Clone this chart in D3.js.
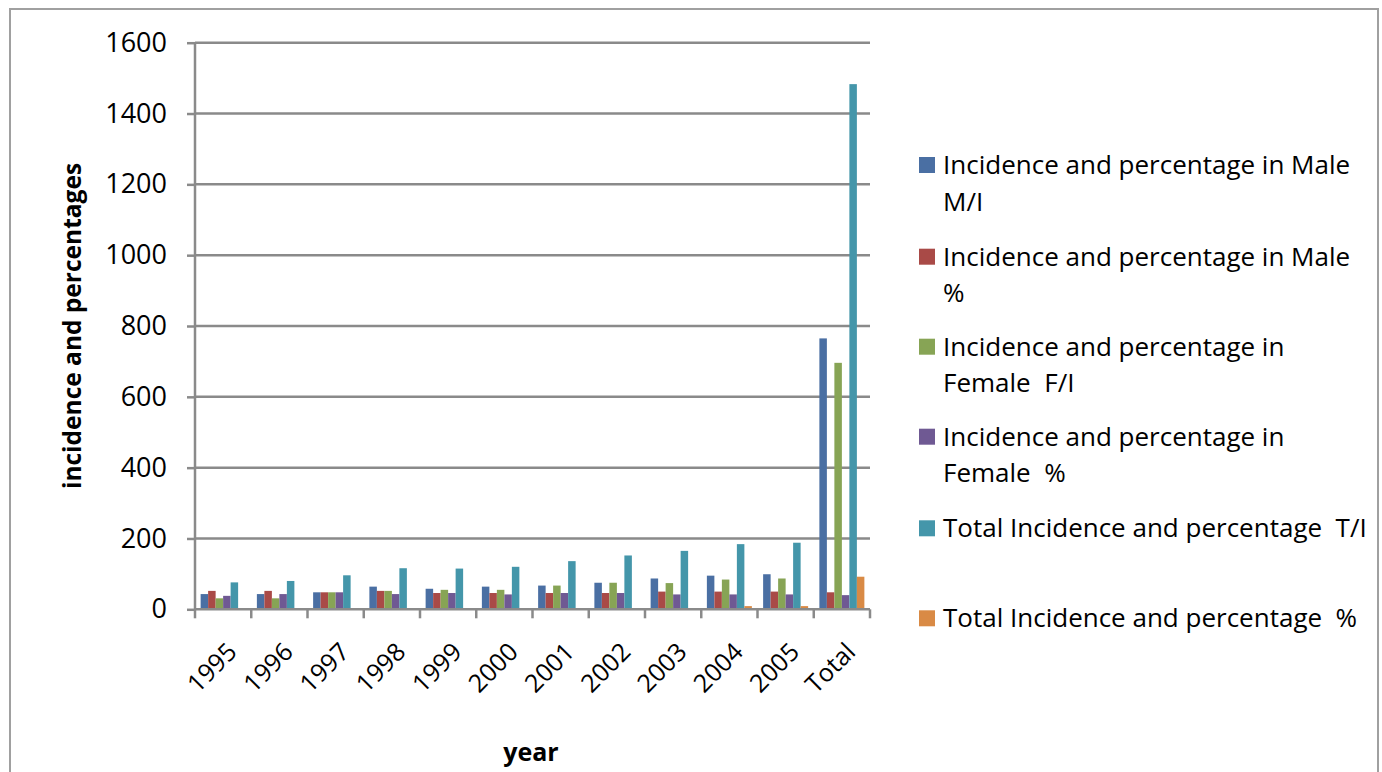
<!DOCTYPE html>
<html><head><meta charset="utf-8">
<script src="https://cdn.jsdelivr.net/npm/d3@7/dist/d3.min.js"></script>
<style>
html,body{margin:0;padding:0;background:#fff;}
svg{display:block;font-family:"Open Sans",sans-serif;}
</style></head>
<body><svg id="c" width="1382" height="772"></svg>
<script>
const categories = ["1995","1996","1997","1998","1999","2000","2001","2002","2003","2004","2005","Total"];
const seriesNames = [
  ["Incidence and percentage in Male","M/I"],
  ["Incidence and percentage in Male","%"],
  ["Incidence and percentage in","Female  F/I"],
  ["Incidence and percentage in","Female  %"],
  ["Total Incidence and percentage  T/I"],
  ["Total Incidence and percentage  %"]
];
const maleIncidence   = [43, 43, 48, 64, 58, 64, 67, 75, 87, 95, 99, 765];
const malePercent     = [52, 52, 48, 52, 46, 46, 46, 46, 50, 50, 50, 48];
const femaleIncidence = [31, 31, 48, 52, 55, 55, 67, 75, 74, 84, 87, 696];
const femalePercent   = [38, 43, 48, 43, 46, 42, 46, 46, 42, 42, 42, 40];
const totalIncidence  = [76, 80, 96, 116, 115, 120, 136, 152, 165, 184, 188, 1483];
const totalPercent    = [0, 0, 0, 0, 0, 0, 0, 0, 0, 9, 9, 92];
const yTicks = [0, 200, 400, 600, 800, 1000, 1200, 1400, 1600];
const colors = ["#4a6fa3", "#a94a47", "#87a455", "#6f5993", "#4496aa", "#d98a45"];

const series = [maleIncidence, malePercent, femaleIncidence, femalePercent, totalIncidence, totalPercent];

const svg = d3.select("#c");
const grey = "#8a8a8a";

// outer border
svg.append("rect").attr("x",10).attr("y",9).attr("width",1368).attr("height",800)
  .attr("fill","none").attr("stroke","#a0a0a0").attr("stroke-width",2);

const pLeft = 195, pRight = 870, pTop = 42.7, pBottom = 609.3;
const x = d3.scaleBand().domain(categories).range([pLeft, pRight]).paddingInner(0).paddingOuter(0);
const x1 = d3.scaleBand().domain(d3.range(series.length)).range([0, x.bandwidth()]).paddingOuter(0.75).paddingInner(0);
const y = d3.scaleLinear().domain([0, 1600]).range([pBottom, pTop]);

// gridlines
svg.append("g").selectAll("line").data(yTicks.filter(d=>d>0)).join("line")
  .attr("x1", pLeft).attr("x2", pRight).attr("y1", d=>y(d)).attr("y2", d=>y(d))
  .attr("stroke", grey).attr("stroke-width", 2.5);

// bars
const groups = svg.append("g").selectAll("g").data(categories).join("g")
  .attr("transform", d => `translate(${x(d)},0)`);
groups.selectAll("rect").data((c, i) => series.map((s, k) => ({k, v: s[i]}))).join("rect")
  .attr("x", d => x1(d.k)).attr("width", x1.bandwidth())
  .attr("y", d => y(d.v)).attr("height", d => y(0) - y(d.v))
  .attr("fill", d => colors[d.k]);

// y axis
const yAxis = d3.axisLeft(y).tickValues(yTicks).tickSize(8).tickPadding(20).tickFormat(d3.format("d"));
const gy = svg.append("g").attr("transform", `translate(${pLeft},0)`).call(yAxis);
gy.select(".domain").attr("stroke", grey).attr("stroke-width", 2.5).attr("d", `M0,${pTop}V${pBottom}`);
gy.selectAll(".tick line").attr("stroke", grey).attr("stroke-width", 2.5);
gy.selectAll(".tick text").attr("font-size", 27).attr("fill", "#000").attr("font-family", "Open Sans");

// x axis
const gx = svg.append("g").attr("transform", `translate(0,${pBottom})`);
gx.append("path").attr("stroke", grey).attr("stroke-width", 2.5).attr("fill","none").attr("d", `M${pLeft},0H${pRight}`);
gx.selectAll("line.t").data(d3.range(categories.length + 1)).join("line")
  .attr("class","t")
  .attr("x1", i => pLeft + i * x.step()).attr("x2", i => pLeft + i * x.step())
  .attr("y1", 0).attr("y2", 9).attr("stroke", grey).attr("stroke-width", 2.5);
gx.selectAll("text.lbl").data(categories).join("text")
  .attr("class","lbl")
  .attr("transform", d => `translate(${x(d) + x.bandwidth()/2 + 9},${38}) rotate(-45)`)
  .attr("text-anchor", "end").attr("dy", "0.35em")
  .attr("font-size", 25).attr("fill", "#000")
  .text(d => d);

// axis titles
svg.append("text").attr("transform", `translate(72,326) rotate(-90)`)
  .attr("text-anchor","middle").attr("dy","0.35em")
  .attr("font-size", 24.5).attr("font-weight","bold").text("incidence and percentages");
svg.append("text").attr("x", 531).attr("y", 752).attr("text-anchor","middle").attr("dy","0.35em")
  .attr("font-size", 25).attr("font-weight","bold").text("year");

// legend
const legendY = [165, 256.7, 346.7, 436.7, 528.3, 618.3];
const lg = svg.append("g").selectAll("g").data(seriesNames).join("g")
  .attr("transform", (d,i) => `translate(0,${legendY[i]})`);
lg.append("rect").attr("x", 919).attr("y", -8).attr("width", 16).attr("height", 16)
  .attr("fill", (d,i) => colors[i]);
lg.each(function(lines){
  const g = d3.select(this);
  lines.forEach((t, j) => {
    g.append("text").attr("x", 943).attr("y", j * 36.5).attr("dy","0.35em")
      .attr("font-size", 26).attr("fill","#000").style("white-space","pre").text(t);
  });
});
</script></body></html>
